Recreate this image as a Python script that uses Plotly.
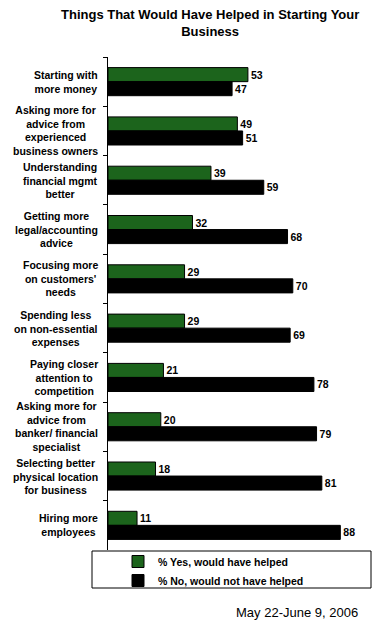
import plotly.graph_objects as go

categories = [
    "Starting with<br>more money",
    "Asking more for<br>advice from<br>experienced<br>business owners",
    "Understanding<br>financial mgmt<br>better",
    "Getting more<br>legal/accounting<br>advice",
    "Focusing more<br>on customers'<br>needs",
    "Spending less<br>on non-essential<br>expenses",
    "Paying closer<br>attention to<br>competition",
    "Asking more for<br>advice from<br>banker/ financial<br>specialist",
    "Selecting better<br>physical location<br>for business",
    "Hiring more<br>employees",
]
yes_vals = [53, 49, 39, 32, 29, 29, 21, 20, 18, 11]
no_vals = [47, 51, 59, 68, 70, 69, 78, 79, 81, 88]
series_names = ["% Yes, would have helped", "% No, would not have helped"]

# page body has an 8px margin; figure sized so reference pixel coords map with an offset
OFF = 8
W, H = 377, 618
FONT = "Arial, Liberation Sans, sans-serif"


def px(x):
    return (x - OFF) / W


def py(y):
    return 1 - (y - OFF) / H


fig = go.Figure()
fig.add_trace(go.Bar(
    y=categories, x=yes_vals, orientation="h", name="<b>" + series_names[0] + "</b>",
    marker=dict(color="#1c641c", line=dict(color="black", width=1)),
    text=["<b>" + str(v) + "</b>" for v in yes_vals], textposition="outside",
    textfont=dict(family=FONT, size=10.5, color="black"), cliponaxis=False,
))
fig.add_trace(go.Bar(
    y=categories, x=no_vals, orientation="h", name="<b>" + series_names[1] + "</b>",
    marker=dict(color="black", line=dict(color="black", width=1)),
    text=["<b>" + str(v) + "</b>" for v in no_vals], textposition="outside",
    textfont=dict(family=FONT, size=10.5, color="black"), cliponaxis=False,
))

annotations = []
for c in categories:
    annotations.append(dict(
        text="<b>" + c + "</b>", x=px(100), xref="paper", xanchor="right",
        y=c, yref="y", yanchor="middle", align="center", showarrow=False,
        font=dict(family=FONT, size=10.5, color="black"),
    ))
annotations.append(dict(
    text="<b>Things That Would Have Helped in Starting Your<br>Business</b>",
    x=px(210), y=py(5), xref="paper", yref="paper", xanchor="center", yanchor="top",
    showarrow=False, align="center", font=dict(family=FONT, size=13, color="black"),
))
annotations.append(dict(
    text="May 22-June 9, 2006", x=px(297), y=py(612), xref="paper", yref="paper",
    xanchor="center", yanchor="middle", showarrow=False,
    font=dict(family=FONT, size=13, color="black"),
))

fig.update_layout(
    width=W, height=H, margin=dict(l=0, r=0, t=0, b=0),
    paper_bgcolor="white", plot_bgcolor="white",
    barmode="group", bargap=0.43, bargroupgap=0,
    showlegend=True,
    legend=dict(
        x=px(118), y=py(547), xanchor="left", yanchor="top",
        bgcolor="rgba(0,0,0,0)", borderwidth=0, tracegroupgap=0,
        font=dict(family=FONT, size=10.5, color="black"), itemwidth=30,
    ),
    xaxis=dict(domain=[px(108), px(372)], range=[0, 100], visible=False, fixedrange=True),
    yaxis=dict(
        domain=[py(550), py(57)], autorange="reversed", showticklabels=False,
        showline=True, linecolor="black", linewidth=1,
        ticks="outside", ticklen=4, tickcolor="black", tickson="boundaries",
        showgrid=False, zeroline=False,
    ),
    annotations=annotations,
    shapes=[dict(type="rect", xref="paper", yref="paper",
                 x0=px(92), x1=px(371), y0=py(588), y1=py(551),
                 line=dict(color="black", width=1), fillcolor="rgba(0,0,0,0)")],
)

fig.write_html("out.html")
